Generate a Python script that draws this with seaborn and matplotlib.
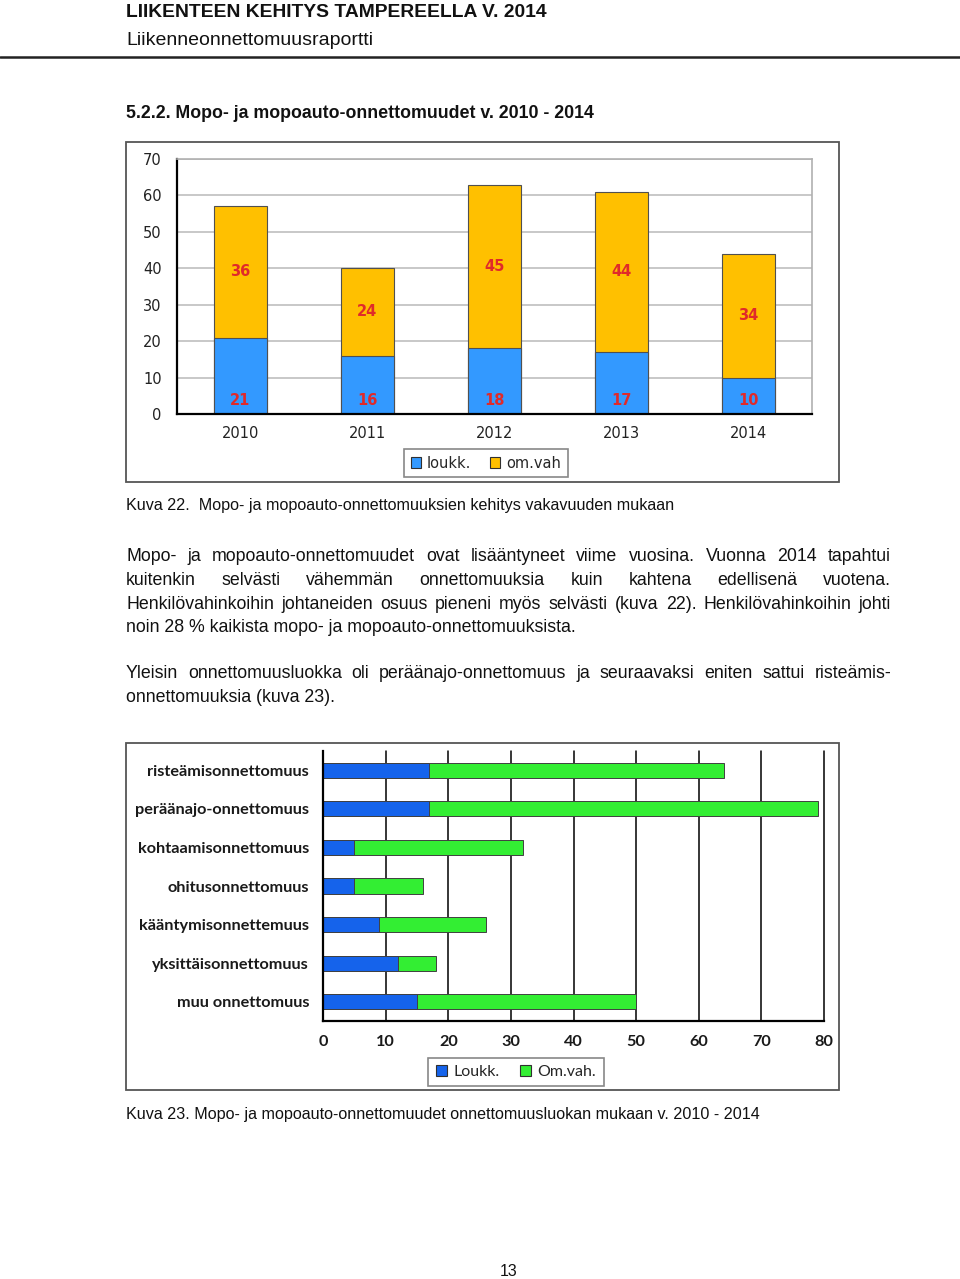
import numpy as np
import pandas as pd
import matplotlib
matplotlib.use("Agg")
import matplotlib.pyplot as plt
from matplotlib.patches import Rectangle, Patch
from matplotlib.lines import Line2D
import seaborn as sns

sns.set_theme(style="white")
plt.rcParams['font.family'] = ['Liberation Sans', 'DejaVu Sans']

### Data
years = ["2010", "2011", "2012", "2013", "2014"]
loukk = [21, 16, 18, 17, 10]
omvah = [36, 24, 45, 44, 34]

classes = ["risteämisonnettomuus", "peräänajo-onnettomuus", "kohtaamisonnettomuus",
           "ohitusonnettomuus", "kääntymisonnettemuus", "yksittäisonnettomuus",
           "muu onnettomuus"]
cls_loukk = [17, 17, 5, 5, 9, 12, 15]
cls_omvah = [47, 62, 27, 11, 17, 6, 35]

W, H = 960, 1279
fig = plt.figure(figsize=(W / 100, H / 100), dpi=100)


def px_rect(l, t, r, b):
    return [l / W, 1 - b / H, (r - l) / W, (b - t) / H]


def put(x, y, s, **kw):
    return fig.text(x / W, 1 - y / H, s, **kw)


### Page text
put(126, 17, "LIIKENTEEN KEHITYS TAMPEREELLA V. 2014", fontsize=13.9, fontweight='bold',
    va='baseline', color='#111111')
put(126, 45, "Liikenneonnettomuusraportti", fontsize=14, va='baseline', color='#111111')
fig.add_artist(Line2D([0, 1], [1 - 57 / H, 1 - 57 / H], color='#222222', lw=1.8))
put(126, 118, "5.2.2. Mopo- ja mopoauto-onnettomuudet v. 2010 - 2014", fontsize=12.75,
    fontweight='bold', va='baseline', color='#111111')
put(126, 510, "Kuva 22.  Mopo- ja mopoauto-onnettomuuksien kehitys vakavuuden mukaan",
    fontsize=11.6, va='baseline', color='#111111')
put(126, 1119, "Kuva 23. Mopo- ja mopoauto-onnettomuudet onnettomuusluokan mukaan v. 2010 - 2014",
    fontsize=11.6, va='baseline', color='#111111')
put(509, 1276, "13", fontsize=11.5, va='baseline', ha='center', color='#111111')

body = [
    ("Mopo- ja mopoauto-onnettomuudet ovat lisääntyneet viime vuosina. Vuonna 2014 tapahtui", 561, True),
    ("kuitenkin selvästi vähemmän onnettomuuksia kuin kahtena edellisenä vuotena.", 585, True),
    ("Henkilövahinkoihin johtaneiden osuus pieneni myös selvästi (kuva 22). Henkilövahinkoihin johti", 609, True),
    ("noin 28 % kaikista mopo- ja mopoauto-onnettomuuksista.", 632, False),
    ("Yleisin onnettomuusluokka oli peräänajo-onnettomuus ja seuraavaksi eniten sattui risteämis-", 678, True),
    ("onnettomuuksia (kuva 23).", 702, False),
]
renderer = fig.canvas.get_renderer()
x0, x1 = 126, 891
for line, yb, just in body:
    if not just:
        put(x0, yb, line, fontsize=12.8, va='baseline', color='#111111')
        continue
    words = line.split(" ")
    objs = [put(0, yb, w, fontsize=12.8, va='baseline', color='#111111') for w in words]
    widths = [t.get_window_extent(renderer).width for t in objs]
    gap = (x1 - x0 - sum(widths)) / (len(words) - 1)
    xx = x0
    for t, w in zip(objs, widths):
        t.set_x(xx / W)
        xx += w + gap

### Frames
for (l, t, r, b) in [(126, 142, 839, 482), (126, 743, 839, 1090)]:
    fig.add_artist(Rectangle((l / W, 1 - b / H), (r - l) / W, (b - t) / H,
                             transform=fig.transFigure, fill=False,
                             edgecolor='#555555', lw=1.3))

### Chart 1: stacked bars by year
blue1, yellow1, red = '#3399FF', '#FFC000', '#E02A2A'
ax1 = fig.add_axes(px_rect(177, 159, 812, 414))
totals = [a + b for a, b in zip(loukk, omvah)]
sns.barplot(x=years, y=totals, color=yellow1, saturation=1, width=0.41,
            edgecolor='#505050', linewidth=0.8, ax=ax1)
sns.barplot(x=years, y=loukk, color=blue1, saturation=1, width=0.41,
            edgecolor='#505050', linewidth=0.8, ax=ax1)
for i in range(len(years)):
    ax1.text(i, loukk[i] + omvah[i] / 2, str(omvah[i]), ha='center', va='center',
             color=red, fontsize=10.5, fontweight='bold', family='DejaVu Sans')
    ax1.text(i, 3.7, str(loukk[i]), ha='center', va='center',
             color=red, fontsize=10.5, fontweight='bold', family='DejaVu Sans')
ax1.set_ylim(0, 70)
ax1.set_xlim(-0.5, 4.5)
ax1.set_yticks(range(0, 71, 10))
ax1.set_axisbelow(True)
ax1.yaxis.grid(True, color='#c4c4c4', lw=1.3)
ax1.xaxis.grid(False)
ax1.set_xticks(np.arange(-0.5, 5, 1), minor=True)
ax1.tick_params(axis='x', which='major', length=0, pad=9, labelsize=10.5)
ax1.tick_params(axis='x', which='minor', length=5, width=1.3, direction='out', color='black')
ax1.tick_params(axis='y', which='major', length=5, width=1.3, direction='out', color='black',
                pad=6, labelsize=10.5)
for lab in ax1.get_xticklabels() + ax1.get_yticklabels():
    lab.set_family('DejaVu Sans')
    lab.set_color('#222222')
for s in ['left', 'bottom']:
    ax1.spines[s].set_color('black')
    ax1.spines[s].set_linewidth(1.6)
for s in ['top', 'right']:
    ax1.spines[s].set_color('#b0b0b0')
    ax1.spines[s].set_linewidth(1.2)
ax1.set_xlabel("")
ax1.set_ylabel("")
leg1 = fig.legend(handles=[Patch(facecolor=blue1, edgecolor='#303030', lw=0.8, label='loukk.'),
                           Patch(facecolor=yellow1, edgecolor='#303030', lw=0.8, label='om.vah')],
                  loc='center', bbox_to_anchor=(486 / W, 1 - 463 / H), ncol=2,
                  fancybox=False, edgecolor='#888888', framealpha=1,
                  handlelength=0.7, handleheight=0.7, handletextpad=0.4, columnspacing=1.3,
                  borderpad=0.45, prop={'family': 'DejaVu Sans', 'size': 10.5})
leg1.get_frame().set_linewidth(1.2)

### Chart 2: horizontal stacked bars by accident class
blue2, green2 = '#1563EB', '#33EE33'
ax2 = fig.add_axes(px_rect(323, 751, 824, 1021))
cls_tot = [a + b for a, b in zip(cls_loukk, cls_omvah)]
sns.barplot(x=cls_tot, y=classes, orient='h', color=green2, saturation=1, width=0.39,
            edgecolor='#404040', linewidth=0.7, ax=ax2)
sns.barplot(x=cls_loukk, y=classes, orient='h', color=blue2, saturation=1, width=0.39,
            edgecolor='#404040', linewidth=0.7, ax=ax2)
ax2.set_xlim(0, 80)
ax2.set_ylim(6.5, -0.5)
ax2.set_xticks(range(0, 81, 10))
ax2.set_axisbelow(True)
ax2.xaxis.grid(True, color='black', lw=1.1)
for gl in ax2.get_xgridlines():
    gl.set_clip_on(False)
ax2.yaxis.grid(False)
ax2.set_yticks(np.arange(-0.5, 7, 1), minor=True)
ax2.tick_params(axis='y', which='major', length=0, pad=10, labelsize=11.7)
ax2.tick_params(axis='y', which='minor', length=5, width=1.6, direction='out', color='black')
ax2.tick_params(axis='x', which='major', length=4, width=1.1, direction='out', color='black',
                pad=6, labelsize=11.7)
for lab in ax2.get_xticklabels() + ax2.get_yticklabels():
    lab.set_family('Lato')
    lab.set_fontweight('bold')
    lab.set_color('#1a1a1a')
for s in ['left', 'bottom']:
    ax2.spines[s].set_color('black')
    ax2.spines[s].set_linewidth(1.6)
for s in ['top', 'right']:
    ax2.spines[s].set_visible(False)
ax2.set_xlabel("")
ax2.set_ylabel("")
leg2 = fig.legend(handles=[Patch(facecolor=blue2, edgecolor='#303030', lw=0.8, label='Loukk.'),
                           Patch(facecolor=green2, edgecolor='#303030', lw=0.8, label='Om.vah.')],
                  loc='center', bbox_to_anchor=(516 / W, 1 - 1072 / H), ncol=2,
                  fancybox=False, edgecolor='#888888', framealpha=1,
                  handlelength=0.7, handleheight=0.7, handletextpad=0.4, columnspacing=1.3,
                  borderpad=0.45, prop={'family': 'Lato', 'size': 11.5})
leg2.get_frame().set_linewidth(1.2)

fig.savefig("out.png", dpi=100)
